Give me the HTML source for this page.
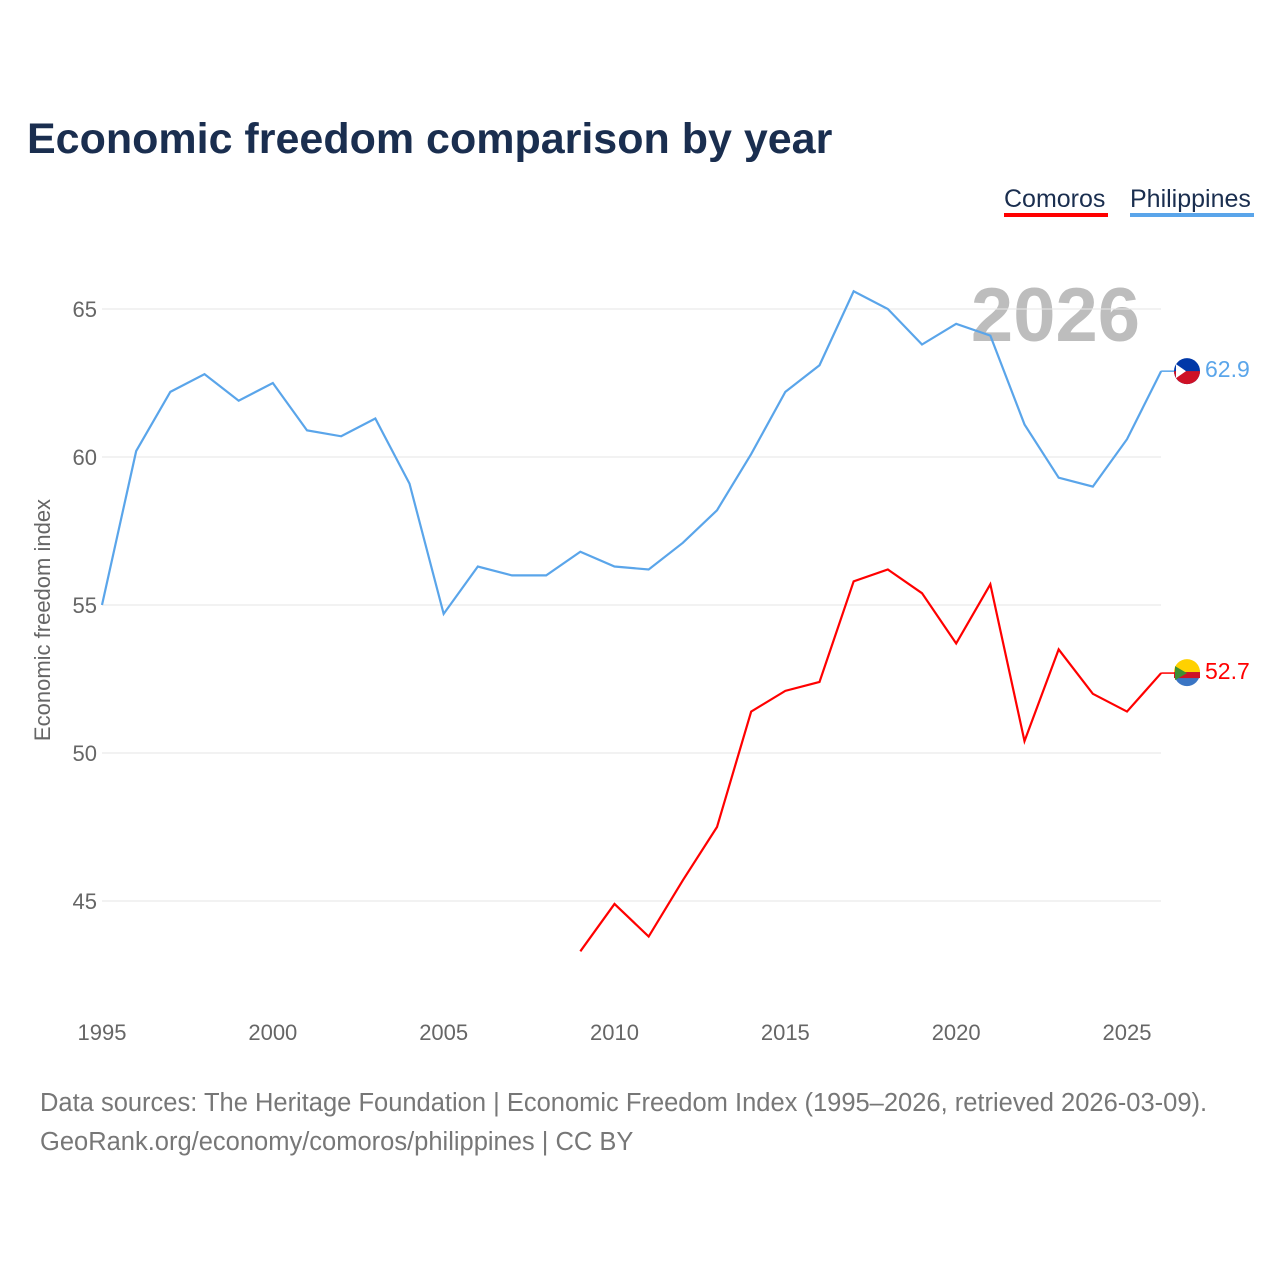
<!DOCTYPE html>
<html><head><meta charset="utf-8"><style>
body{margin:0;background:#fff;font-family:"Liberation Sans",sans-serif}
svg text{font-family:"Liberation Sans",sans-serif}
</style></head><body>
<svg id="chart" width="1280" height="1280" xmlns="http://www.w3.org/2000/svg">
<text x="27" y="153" font-size="43" font-weight="bold" fill="#1a2e4f">Economic freedom comparison by year</text>
<g>
<text x="1004" y="207" font-size="25" fill="#1a2e4f">Comoros</text>
<rect x="1004" y="213" width="104" height="4" fill="#ff0000"/>
<text x="1130" y="207" font-size="25" fill="#1a2e4f">Philippines</text>
<rect x="1130" y="213" width="124" height="4" fill="#5aa5ea"/>
</g>
<text x="1140" y="341" font-size="76" font-weight="bold" fill="#bdbdbd" text-anchor="end">2026</text>
<text transform="translate(50,620) rotate(-90)" font-size="22" fill="#666" text-anchor="middle">Economic freedom index</text>
<g id="grid"></g><g id="series"></g>
<text x="40" y="1111" font-size="25.5" fill="#777">Data sources: The Heritage Foundation | Economic Freedom Index (1995–2026, retrieved 2026-03-09).</text>
<text x="40" y="1150" font-size="25.5" fill="#777">GeoRank.org/economy/comoros/philippines | CC BY</text>
</svg>
<script>
const yTicks=[45,50,55,60,65];
const xTicks=[1995,2000,2005,2010,2015,2020,2025];
const phYears=[1995,1996,1997,1998,1999,2000,2001,2002,2003,2004,2005,2006,2007,2008,2009,2010,2011,2012,2013,2014,2015,2016,2017,2018,2019,2020,2021,2022,2023,2024,2025,2026];
const phValues=[55.0,60.2,62.2,62.8,61.9,62.5,60.9,60.7,61.3,59.1,54.7,56.3,56.0,56.0,56.8,56.3,56.2,57.1,58.2,60.1,62.2,63.1,65.6,65.0,63.8,64.5,64.1,61.1,59.3,59.0,60.6,62.9];
const kmYears=[2009,2010,2011,2012,2013,2014,2015,2016,2017,2018,2019,2020,2021,2022,2023,2024,2025,2026];
const kmValues=[43.3,44.9,43.8,45.7,47.5,51.4,52.1,52.4,55.8,56.2,55.4,53.7,55.7,50.4,53.5,52.0,51.4,52.7];
const NS='http://www.w3.org/2000/svg';
const x=yr=>102+(yr-1995)*(1127-102)/30;
const y=v=>309+(65-v)*29.6;
function mk(t,a,p){const e=document.createElementNS(NS,t);for(const k in a)e.setAttribute(k,a[k]);p.appendChild(e);return e;}
const g=document.getElementById('grid'),s=document.getElementById('series');
yTicks.forEach(v=>{
 const l=mk('line',{x1:102,x2:1161,y1:y(v),y2:y(v),stroke:'#e6e6e6'},g);
 
 
 const t=mk('text',{x:97,y:y(v)+8,'font-size':22,fill:'#666','text-anchor':'end'},g);t.textContent=v;
 
 
});
xTicks.forEach(v=>{
 const t=mk('text',{x:x(v),y:1040,'font-size':22,fill:'#666','text-anchor':'middle'},g);t.textContent=v;
 
 
});
function line(ys,vs,c,name){
 const p=mk('polyline',{points:ys.map((yr,i)=>x(yr)+','+y(vs[i])).join(' '),fill:'none',stroke:c,'stroke-width':2.2},s);
 
 
 const lv=vs[vs.length-1],ly=y(lv);
 mk('line',{x1:x(ys[ys.length-1]),x2:1175,y1:ly,y2:ly,stroke:c,'stroke-width':1.5},s);
 const f=mk('circle',{cx:1187,cy:ly,r:13,fill:name==='philippines'?'#0038a8':'#3a75c4'},s);
 
 
 if(name==='philippines'){mk('path',{d:`M1174 ${ly} h26 a13 13 0 0 1 -26 0z`,fill:'#ce1126'},s);mk('path',{d:`M1176 ${ly-7} L1186 ${ly} L1176 ${ly+7}z`,fill:'#fff'},s);}
 else{mk('path',{d:`M1174 ${ly-1} a13 13 0 0 1 26 0 h-26z`,fill:'#ffd100'},s);mk('rect',{x:1174,y:ly-1,width:26,height:6,fill:'#ce1126'},s);mk('path',{d:`M1175 ${ly-7} L1187 ${ly} L1175 ${ly+7}z`,fill:'#3d8e33'},s);}
 const t=mk('text',{x:1205,y:ly+6,'font-size':23,fill:c},s);t.textContent=lv.toFixed(1);
 
 
}
line(phYears,phValues,'#5aa5ea','philippines');
line(kmYears,kmValues,'#ff0000','comoros');
</script>
</body></html>
